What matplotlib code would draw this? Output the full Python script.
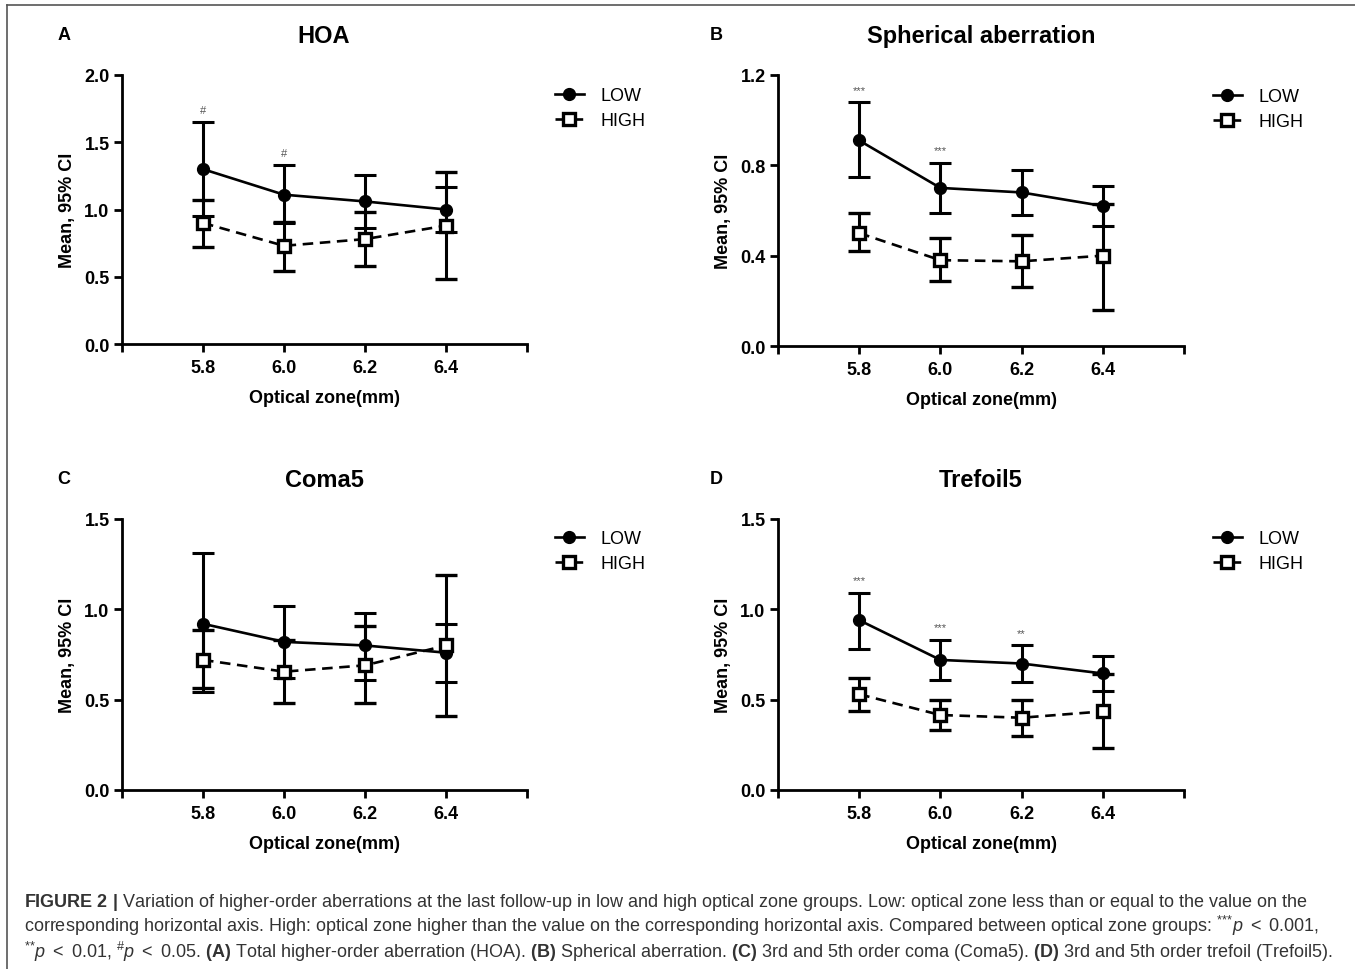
import matplotlib
matplotlib.use("Agg")
import matplotlib.pyplot as plt
from matplotlib.lines import Line2D

plt.rcParams["font.family"] = ["Liberation Sans", "DejaVu Sans"]
plt.rcParams["mathtext.fontset"] = "custom"
plt.rcParams["mathtext.rm"] = "Liberation Sans"
plt.rcParams["mathtext.it"] = "Liberation Sans:italic"
plt.rcParams["mathtext.bf"] = "Liberation Sans:bold"

# ---------------- data ----------------
zones = [5.8, 6.0, 6.2, 6.4]
xtick_vals = [5.6, 5.8, 6.0, 6.2, 6.4, 6.6]
xtick_labels = ["", "5.8", "6.0", "6.2", "6.4", ""]
series_labels = ["LOW", "HIGH"]

hoa_low_mean = [1.30, 1.11, 1.06, 1.00]
hoa_low_lo = [0.95, 0.90, 0.86, 0.83]
hoa_low_hi = [1.65, 1.33, 1.26, 1.17]
hoa_high_mean = [0.90, 0.73, 0.78, 0.88]
hoa_high_lo = [0.72, 0.54, 0.58, 0.48]
hoa_high_hi = [1.07, 0.91, 0.98, 1.28]
hoa_sig = ["#", "#", "", ""]
hoa_yticks = [0.0, 0.5, 1.0, 1.5, 2.0]

sa_low_mean = [0.91, 0.70, 0.68, 0.62]
sa_low_lo = [0.75, 0.59, 0.58, 0.53]
sa_low_hi = [1.08, 0.81, 0.78, 0.71]
sa_high_mean = [0.50, 0.38, 0.375, 0.40]
sa_high_lo = [0.42, 0.29, 0.26, 0.16]
sa_high_hi = [0.59, 0.48, 0.49, 0.63]
sa_sig = ["***", "***", "", ""]
sa_yticks = [0.0, 0.4, 0.8, 1.2]

coma_low_mean = [0.92, 0.82, 0.80, 0.76]
coma_low_lo = [0.54, 0.62, 0.61, 0.60]
coma_low_hi = [1.31, 1.02, 0.98, 0.92]
coma_high_mean = [0.72, 0.655, 0.69, 0.80]
coma_high_lo = [0.565, 0.48, 0.48, 0.41]
coma_high_hi = [0.885, 0.83, 0.905, 1.19]
coma_sig = ["", "", "", ""]
coma_yticks = [0.0, 0.5, 1.0, 1.5]

tre_low_mean = [0.94, 0.72, 0.70, 0.645]
tre_low_lo = [0.78, 0.61, 0.60, 0.55]
tre_low_hi = [1.09, 0.83, 0.80, 0.74]
tre_high_mean = [0.53, 0.415, 0.40, 0.435]
tre_high_lo = [0.44, 0.33, 0.30, 0.23]
tre_high_hi = [0.62, 0.50, 0.50, 0.64]
tre_sig = ["***", "***", "**", ""]
tre_yticks = [0.0, 0.5, 1.0, 1.5]

# ---------------- layout ----------------
W, H = 1355, 970
fig = plt.figure(figsize=(W / 100, H / 100), dpi=100)
fig.patch.set_facecolor("white")


def fx(x):
    return x / W


def fy(y):
    return 1 - y / H


panels = [
    dict(letter="A", title="HOA", rect=(122, 76, 527, 345), yticks=hoa_yticks,
         low=(hoa_low_mean, hoa_low_lo, hoa_low_hi),
         high=(hoa_high_mean, hoa_high_lo, hoa_high_hi), sig=hoa_sig,
         legxy=(555, 88), letterxy=(64, 40), titlex=324, titley=43),
    dict(letter="B", title="Spherical aberration", rect=(778, 76, 1184, 347), yticks=sa_yticks,
         low=(sa_low_mean, sa_low_lo, sa_low_hi),
         high=(sa_high_mean, sa_high_lo, sa_high_hi), sig=sa_sig,
         legxy=(1213, 89), letterxy=(716, 40), titlex=981, titley=43),
    dict(letter="C", title="Coma5", rect=(122, 520, 527, 791), yticks=coma_yticks,
         low=(coma_low_mean, coma_low_lo, coma_low_hi),
         high=(coma_high_mean, coma_high_lo, coma_high_hi), sig=coma_sig,
         legxy=(555, 531), letterxy=(64, 484), titlex=324, titley=487),
    dict(letter="D", title="Trefoil5", rect=(778, 520, 1184, 791), yticks=tre_yticks,
         low=(tre_low_mean, tre_low_lo, tre_low_hi),
         high=(tre_high_mean, tre_high_lo, tre_high_hi), sig=tre_sig,
         legxy=(1213, 531), letterxy=(716, 484), titlex=981, titley=487),
]

LW_AX = 2.0
for p in panels:
    l, t, r, b = p["rect"]
    ax = fig.add_axes([fx(l), fy(b), (r - l) / W, (b - t) / H])
    ax.set_xlim(5.6, 6.6)
    ax.set_ylim(0, p["yticks"][-1])
    for s in ("top", "right"):
        ax.spines[s].set_visible(False)
    for s in ("left", "bottom"):
        ax.spines[s].set_linewidth(LW_AX)
    ax.tick_params(direction="out", length=6, width=LW_AX, labelsize=13)
    ax.tick_params(axis="x", pad=5)
    ax.tick_params(axis="y", pad=3)
    ax.set_xticks(xtick_vals)
    ax.set_xticklabels(xtick_labels, fontweight="bold")
    ax.set_yticks(p["yticks"])
    ax.set_yticklabels(["{:.1f}".format(v) for v in p["yticks"]], fontweight="bold")
    ax.set_xlabel("Optical zone(mm)", fontsize=13, fontweight="bold", labelpad=9)
    ax.set_ylabel("Mean, 95% CI", fontsize=13, fontweight="bold", labelpad=6)

    m, lo, hi = p["low"]
    e1 = ax.errorbar(zones, m, yerr=[[a - c for a, c in zip(m, lo)], [d - a for a, d in zip(m, hi)]],
                     fmt="-o", color="black", lw=1.9, ms=8.5, elinewidth=2.2,
                     capsize=8, capthick=2.2, zorder=3, clip_on=False)
    m2, lo2, hi2 = p["high"]
    e2 = ax.errorbar(zones, m2, yerr=[[a - c for a, c in zip(m2, lo2)], [d - a for a, d in zip(m2, hi2)]],
                     fmt="--s", color="black", lw=1.9, ms=8.5, mfc="white", mec="black", mew=2.4,
                     elinewidth=2.2, capsize=8, capthick=2.2, zorder=4, clip_on=False)
    e2[0].set_dashes([4, 2.5])

    for xv, hv, s in zip(zones, hi, p["sig"]):
        if s:
            ax.annotate(s, (xv, hv), xytext=(0, 9), textcoords="offset points",
                        ha="center", va="center", fontsize=8, color="#555555")

    lx, ly = p["legxy"]
    ax.legend([e1[0], e2[0]], series_labels, loc="upper left",
              bbox_to_anchor=((lx - l) / (r - l), (b - ly) / (b - t)),
              frameon=False, fontsize=13, handlelength=1.6, handletextpad=0.9,
              labelspacing=0.45, borderpad=0, borderaxespad=0)

    fig.text(fx(p["letterxy"][0]), fy(p["letterxy"][1]), p["letter"], fontsize=13,
             fontweight="bold", ha="center", va="baseline")
    fig.text(fx(p["titlex"]), fy(p["titley"]), p["title"], fontsize=17,
             fontweight="bold", ha="center", va="baseline")

# frame lines
fig.add_artist(Line2D([fx(7), 1.0], [fy(6), fy(6)], color="#555555", lw=1.2,
                      transform=fig.transFigure))
fig.add_artist(Line2D([fx(7), fx(7)], [fy(6), 0.0], color="#555555", lw=1.2,
                      transform=fig.transFigure))

# caption
cap_lines = [
    r"$\mathbf{FIGURE\ 2\ |}$ Variation of higher-order aberrations at the last follow-up in low and high optical zone groups. Low: optical zone less than or equal to the value on the",
    r"corresponding horizontal axis. High: optical zone higher than the value on the corresponding horizontal axis. Compared between optical zone groups: $^{\text{***}}p\ <$ 0.001,",
    r"$^{\text{**}}p\ <$ 0.01, $^{\#}p\ <$ 0.05. $\mathbf{(A)}$ Total higher-order aberration (HOA). $\mathbf{(B)}$ Spherical aberration. $\mathbf{(C)}$ 3rd and 5th order coma (Coma5). $\mathbf{(D)}$ 3rd and 5th order trefoil (Trefoil5).",
]
for yb, s in zip([907, 932, 958], cap_lines):
    fig.text(fx(24), fy(yb), s, fontsize=13, color="#333333", ha="left", va="baseline")

fig.savefig("out.png", dpi=100)
